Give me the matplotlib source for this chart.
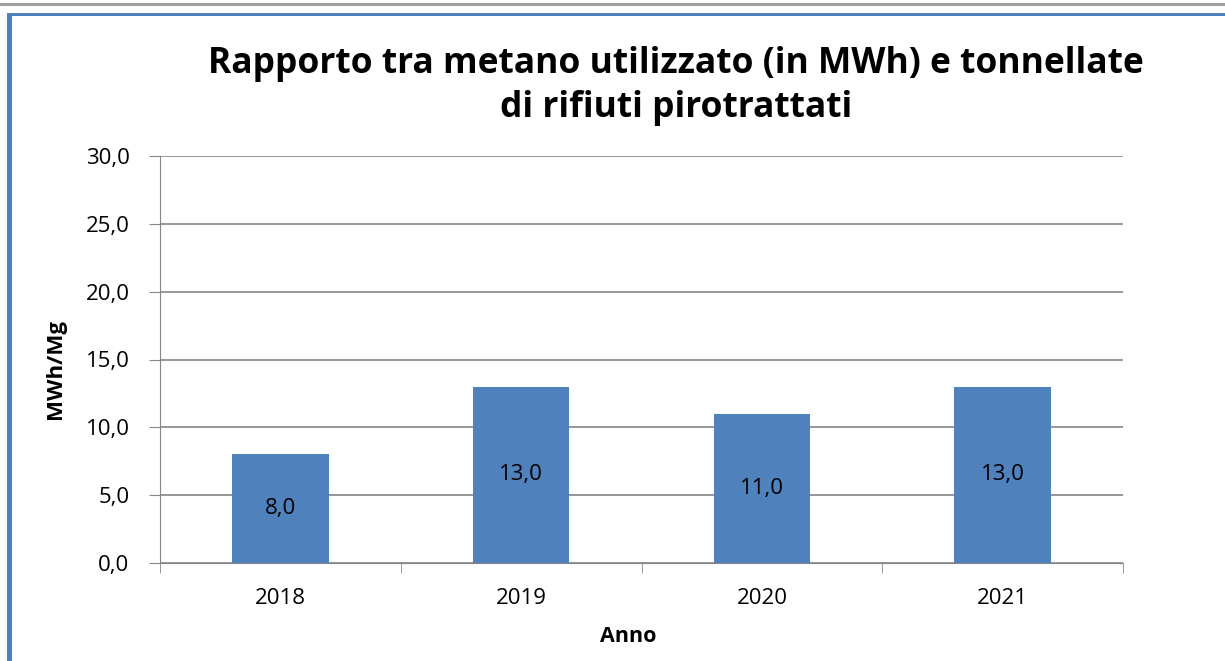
import matplotlib.pyplot as plt
from matplotlib.patches import Rectangle

anni = ["2018", "2019", "2020", "2021"]
valori = [8.0, 13.0, 11.0, 13.0]
y_ticks = [0, 5, 10, 15, 20, 25, 30]

plt.rcParams['font.family'] = ['Open Sans', 'DejaVu Sans']

W, H = 1225, 661
fig = plt.figure(figsize=(W / 100, H / 100), dpi=100)

# page decorations: gray rule and blue frame
fig.add_artist(Rectangle((0, 1 - 6 / H), 1, 3 / H, transform=fig.transFigure,
                         facecolor="#a0a0a0", edgecolor="none"))
fig.add_artist(Rectangle((7 / W, 1 - 16 / H), 1 - 7 / W, 3 / H, transform=fig.transFigure,
                         facecolor="#4f81bd", edgecolor="none"))
fig.add_artist(Rectangle((7 / W, 0), 5 / W, 1 - 13 / H, transform=fig.transFigure,
                         facecolor="#4f81bd", edgecolor="none"))

ax = fig.add_axes([160 / W, 1 - 563 / H, (1123 - 160) / W, (563 - 156) / H])
x = range(len(anni))
bars = ax.bar(x, valori, width=0.4, color="#4f81bd", zorder=3)
for b, v in zip(bars, valori):
    ax.text(b.get_x() + b.get_width() / 2, v / 2, f"{v:.1f}".replace(".", ","),
            ha="center", va="center", fontsize=16, color="black", zorder=4)

ax.set_xlim(-0.5, len(anni) - 0.5)
ax.set_ylim(0, 30)
ax.set_yticks(y_ticks)
ax.set_yticklabels([f"{t:.1f}".replace(".", ",") for t in y_ticks], fontsize=16)
ax.set_xticks(list(x))
ax.set_xticklabels(anni, fontsize=16)
ax.tick_params(axis="x", length=0, pad=18)
ax.set_xticks([i + 0.5 for i in range(-1, len(anni))], minor=True)
ax.tick_params(axis="x", which="minor", length=7, color="#868686", direction="out")
ax.tick_params(axis="y", length=8, color="#868686", direction="out", pad=14)
ax.grid(axis="y", color="#868686", linewidth=1.2, zorder=0)
for s in ["top", "right"]:
    ax.spines[s].set_visible(False)
ax.spines["left"].set_color("#868686")
ax.spines["bottom"].set_color("#868686")

fig.text(676 / W, 1 - 86 / H,
         "Rapporto tra metano utilizzato (in MWh) e tonnellate\ndi rifiuti pirotrattati",
         ha="center", va="center", fontsize=25.5, fontweight="bold", linespacing=1.28)
fig.text(55 / W, 1 - 369 / H, "MWh/Mg", rotation=90, ha="center", va="center",
         fontsize=16, fontweight="bold")
fig.text(628 / W, 1 - 637 / H, "Anno", ha="center", va="center",
         fontsize=15.5, fontweight="bold")

fig.savefig("out.png", dpi=100)
